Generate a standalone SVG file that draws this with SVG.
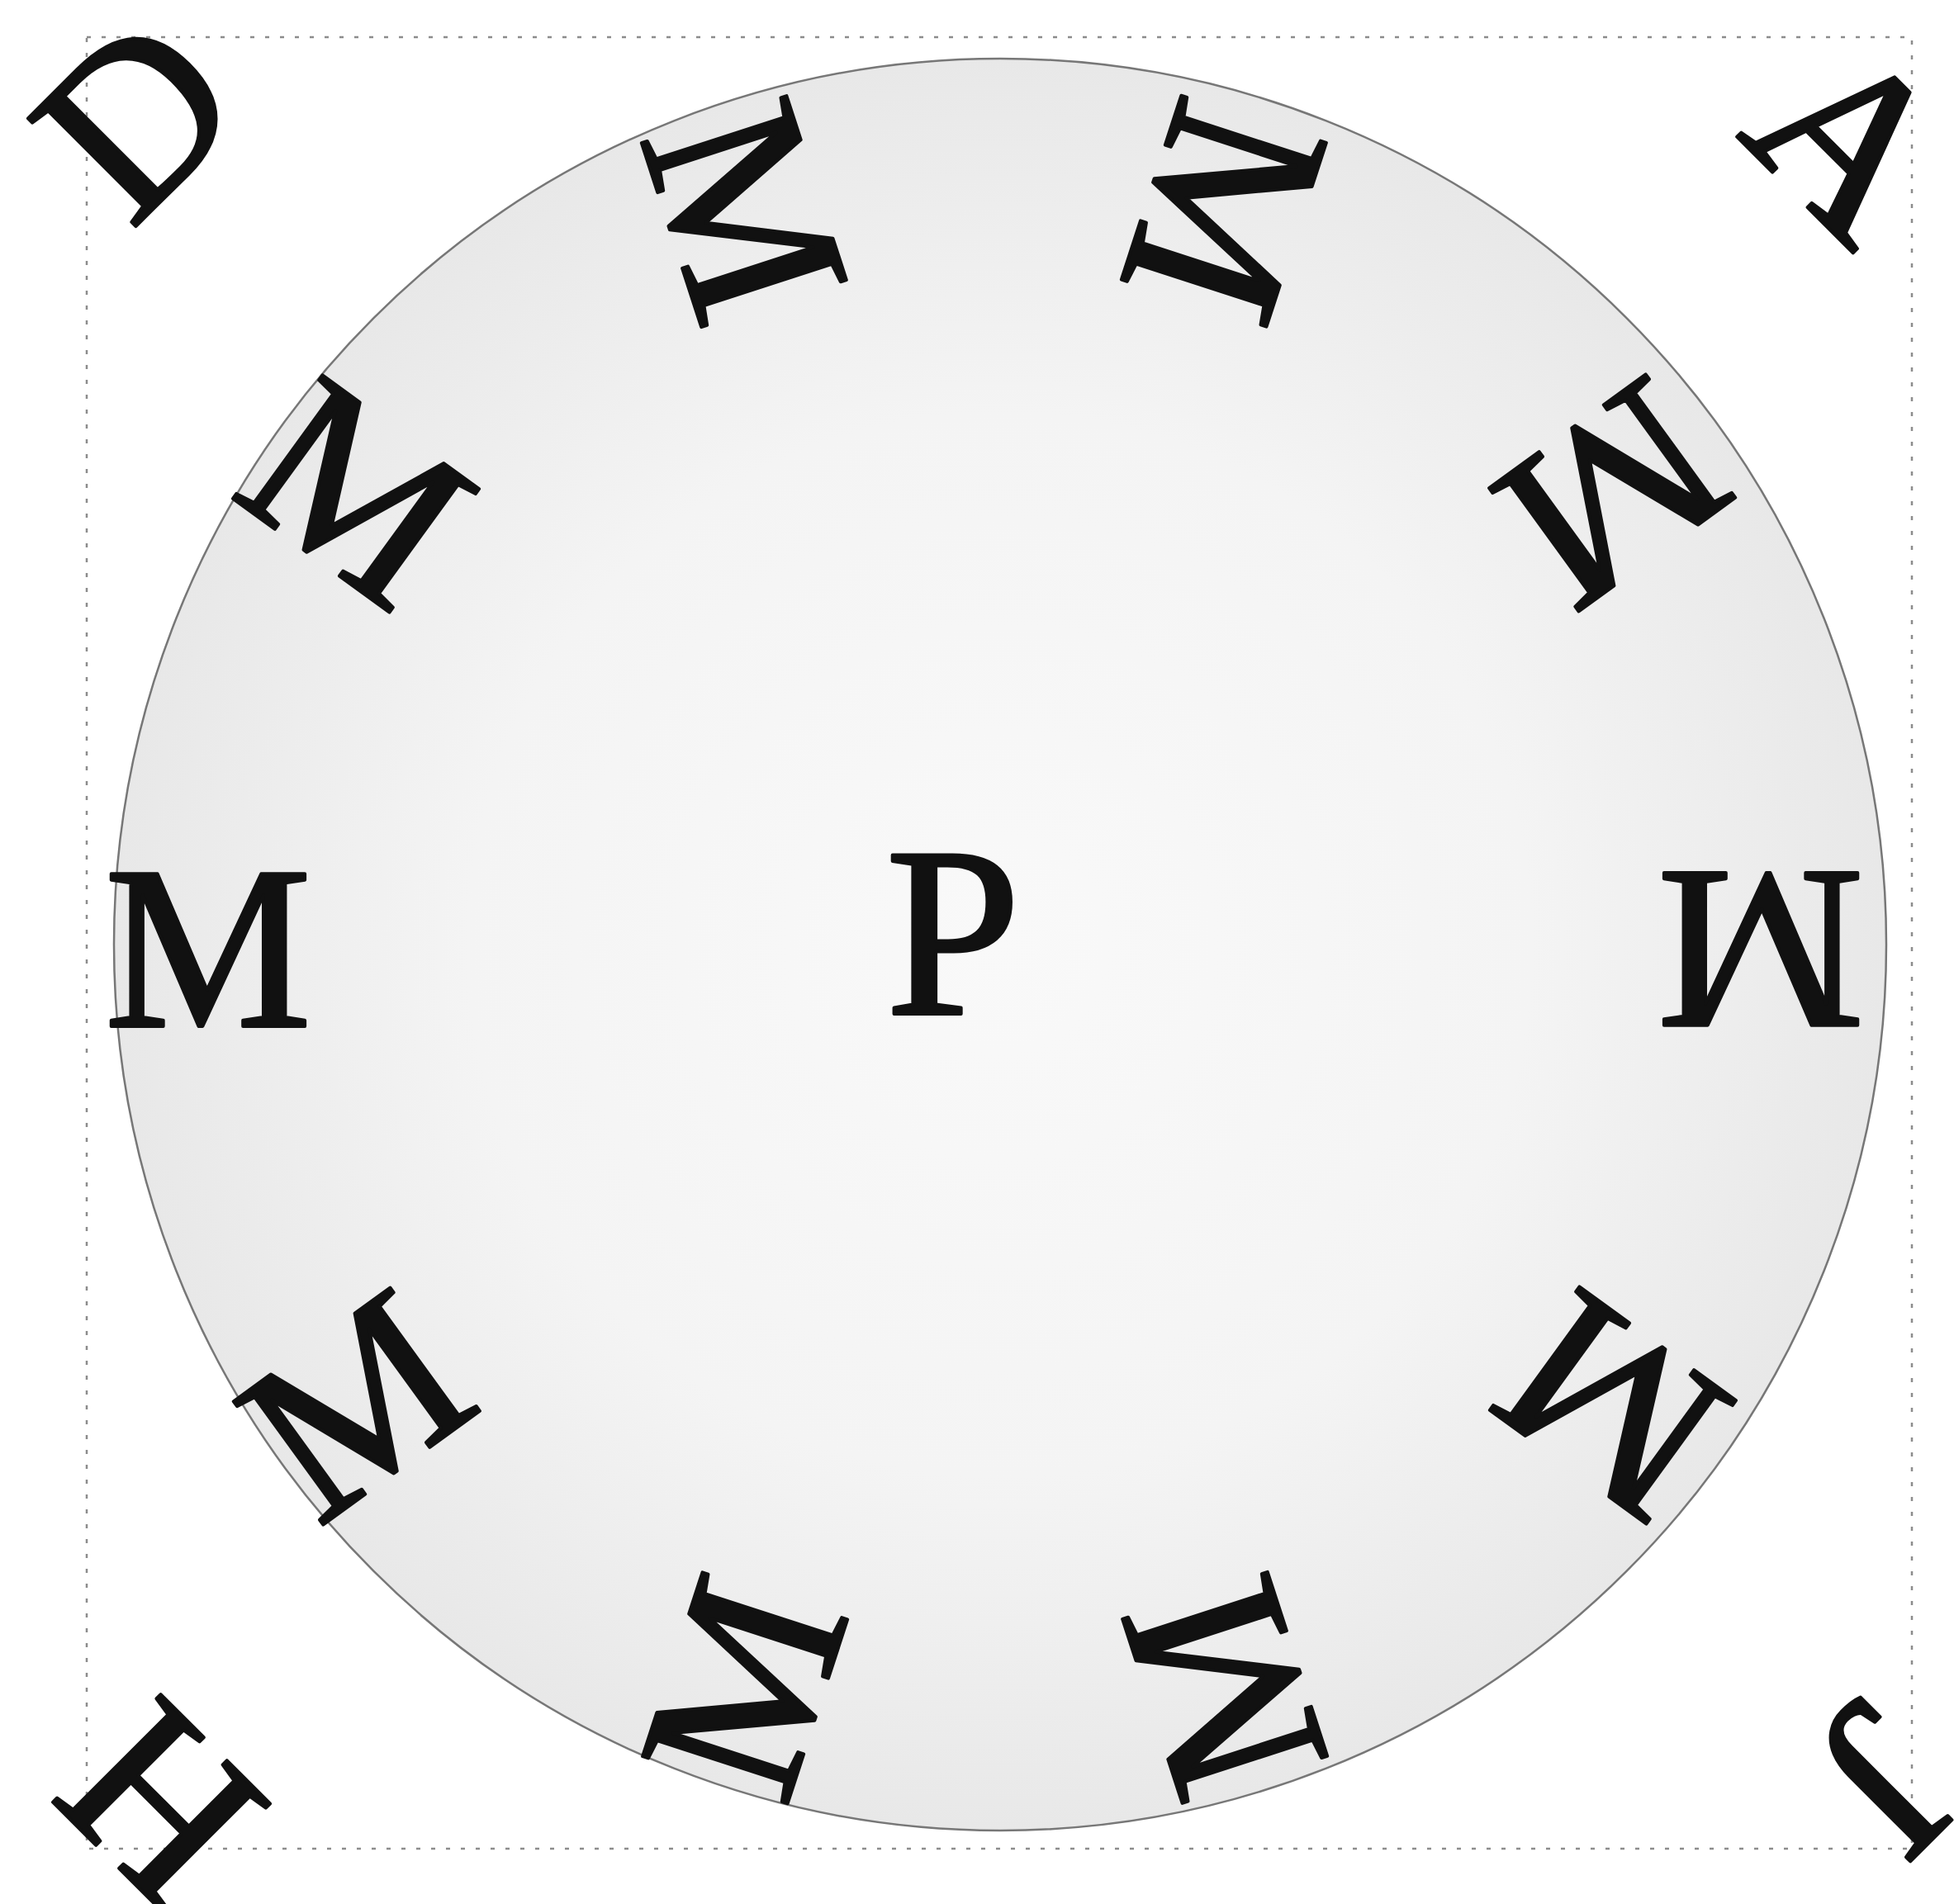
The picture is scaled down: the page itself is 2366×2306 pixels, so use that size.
<svg xmlns="http://www.w3.org/2000/svg" width="2366" height="2306" viewBox="0 0 2366 2306">
<defs>
<radialGradient id="disk" cx="0.5" cy="0.5" r="0.5">
<stop offset="0" stop-color="#f9f9f9"/>
<stop offset="0.6" stop-color="#f4f4f4"/>
<stop offset="1" stop-color="#e8e8e8"/>
</radialGradient>
<style>
.frame{fill:none;stroke:#8c8c8c;stroke-width:2.5;stroke-dasharray:5 13}
.disk{fill:url(#disk);stroke:#777;stroke-width:2.5}
.lt{font-family:"Liberation Serif","Times New Roman",serif;font-size:282px;fill:#111;stroke:#111;stroke-width:4;stroke-linejoin:round;text-anchor:middle}
.big{font-size:294px}
</style>
</defs>
<rect width="2366" height="2306" fill="#fff"/>
<g id="frame"><rect class="frame" x="105" y="45" width="2210" height="2194"/></g>
<g id="disk"><circle class="disk" cx="1211" cy="1144" r="1073"/></g>
<g id="center"><text class="lt big" x="1154" y="1228">P</text></g>
<g id="ring">
<g id="m0" transform="translate(2132 1150) rotate(180)"><text class="lt" x="0" y="93">M</text></g>
<g id="m1" transform="translate(1952.5 1702.5) rotate(216)"><text class="lt" x="0" y="93">M</text></g>
<g id="m2" transform="translate(1482.5 2044) rotate(252)"><text class="lt" x="0" y="93">M</text></g>
<g id="m3" transform="translate(901.5 2044) rotate(288)"><text class="lt" x="0" y="93">M</text></g>
<g id="m4" transform="translate(431.5 1702.5) rotate(324)"><text class="lt" x="0" y="93">M</text></g>
<g id="m5" transform="translate(252 1150)"><text class="lt" x="0" y="93">M</text></g>
<g id="m6" transform="translate(431.5 597.5) rotate(36)"><text class="lt" x="0" y="93">M</text></g>
<g id="m7" transform="translate(901.5 256) rotate(72)"><text class="lt" x="0" y="93">M</text></g>
<g id="m8" transform="translate(1482.5 256) rotate(108)"><text class="lt" x="0" y="93">M</text></g>
<g id="m9" transform="translate(1952.5 597.5) rotate(144)"><text class="lt" x="0" y="93">M</text></g>
</g>
<g id="corners">
<g id="cD" transform="translate(165 142) rotate(-45)"><text class="lt" x="0" y="93">D</text></g>
<g id="cA" transform="translate(2239 170) rotate(45)"><text class="lt" x="0" y="93">A</text></g>
<g id="cJ" transform="translate(2283 2155) rotate(135)"><text class="lt" x="0" y="93">J</text></g>
<g id="cH" transform="translate(195 2184) rotate(-135)"><text class="lt" x="0" y="93">H</text></g>
</g>
</svg>
